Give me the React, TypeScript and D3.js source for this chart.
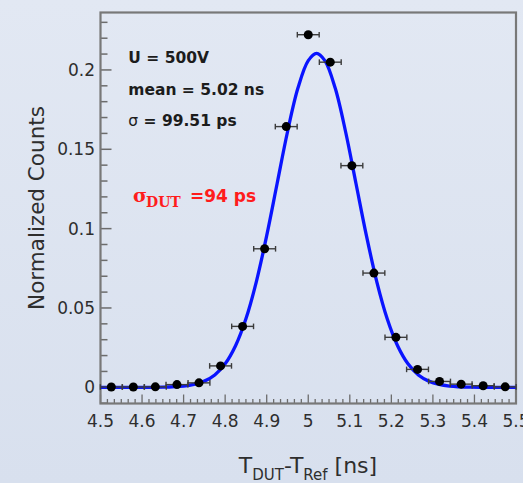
import React, { useRef, useEffect } from 'react';
import * as d3 from 'd3';

// histogram bins (centers in ns) and normalized counts
const binCenters = [4.526, 4.579, 4.632, 4.684, 4.737, 4.789, 4.842, 4.895, 4.947, 5.0, 5.053, 5.105, 5.158, 5.211, 5.263, 5.316, 5.368, 5.421, 5.474];
const counts = [0.0002, 0.0002, 0.0003, 0.0017, 0.0028, 0.0135, 0.0384, 0.0873, 0.1643, 0.2222, 0.2049, 0.1397, 0.072, 0.0315, 0.0113, 0.0037, 0.002, 0.001, 0.0003];
const binHalfWidth = 0.0263;

// gaussian fit
const fitX = [4.5, 4.6, 4.65, 4.7, 4.725, 4.75, 4.775, 4.8, 4.825, 4.85, 4.875, 4.9, 4.925, 4.95, 4.975, 5.0, 5.02, 5.04, 5.065, 5.09, 5.115, 5.14, 5.165, 5.19, 5.215, 5.24, 5.265, 5.29, 5.315, 5.34, 5.39, 5.5];
const fitY = [0, 0, 0.0001, 0.0008, 0.0018, 0.0039, 0.0078, 0.0148, 0.0262, 0.0432, 0.0665, 0.0956, 0.1283, 0.1609, 0.1884, 0.2059, 0.2105, 0.2059, 0.1884, 0.1609, 0.1283, 0.0956, 0.0665, 0.0432, 0.0262, 0.0148, 0.0078, 0.0039, 0.0018, 0.0008, 0.0001, 0];

const xTicks = [4.5, 4.6, 4.7, 4.8, 4.9, 5, 5.1, 5.2, 5.3, 5.4, 5.5];
const xTickLabels = ['4.5', '4.6', '4.7', '4.8', '4.9', '5', '5.1', '5.2', '5.3', '5.4', '5.5'];
const yTicks = [0, 0.05, 0.1, 0.15, 0.2];
const yTickLabels = ['0', '0.05', '0.1', '0.15', '0.2'];

const statLines = [
  { sym: '', text: 'U = 500V' },
  { sym: '', text: 'mean = 5.02 ns' },
  { sym: 'σ', text: ' = 99.51 ps' },
];

const App = () => {
  const svgRef = useRef(null);

  useEffect(() => {
    const svg = d3.select(svgRef.current);
    svg.selectAll('*').remove();
    const width = 523;
    const height = 483;

    // frame
    const frame = { left: 100.5, right: 516, top: 12.5, bottom: 403.5 };

    const xScale = d3.scaleLinear().domain([4.5, 5.5]).range([frame.left, frame.right]);
    const yScale = d3.scaleLinear().domain([-0.0102, 0.2362]).range([frame.bottom, frame.top]);

    // background gradient
    const defs = svg.append('defs');
    const grad = defs.append('linearGradient')
      .attr('id', 'bg')
      .attr('x1', 0).attr('y1', 0).attr('x2', 0).attr('y2', 1);
    grad.append('stop').attr('offset', '0%').attr('stop-color', '#e2e8f3');
    grad.append('stop').attr('offset', '100%').attr('stop-color', '#d8e0ee');

    svg.append('rect')
      .attr('width', width).attr('height', height)
      .attr('fill', 'url(#bg)');

    const font = 'DejaVu Sans, sans-serif';
    const tickColor = '#6c6c6c';
    const labelColor = '#2e2e2e';

    // y ticks (inside the frame)
    const yMinor = d3.range(-0.01, 0.2361, 0.01).filter(v => v > -0.0102);
    svg.append('g').selectAll('line')
      .data(yMinor)
      .join('line')
      .attr('x1', frame.left)
      .attr('x2', v => frame.left + (Math.abs(Math.round(v * 100) % 5) === 0 ? 11 : 7))
      .attr('y1', v => yScale(v))
      .attr('y2', v => yScale(v))
      .attr('stroke', tickColor)
      .attr('stroke-width', 1.5);

    // x ticks (pointing up)
    const xMinor = d3.range(0, 61).map(i => 4.5 + i / 60);
    svg.append('g').selectAll('line')
      .data(xMinor)
      .join('line')
      .attr('x1', v => xScale(v))
      .attr('x2', v => xScale(v))
      .attr('y1', frame.bottom)
      .attr('y2', (v, i) => frame.bottom - (i % 6 === 0 ? 9 : 4.5))
      .attr('stroke', tickColor)
      .attr('stroke-width', 1.3);

    // frame
    svg.append('rect')
      .attr('x', frame.left).attr('y', frame.top)
      .attr('width', frame.right - frame.left)
      .attr('height', frame.bottom - frame.top)
      .attr('fill', 'none')
      .attr('stroke', '#787878')
      .attr('stroke-width', 2.2);

    // tick labels
    svg.append('g').selectAll('text')
      .data(yTicks)
      .join('text')
      .attr('x', 95)
      .attr('y', v => yScale(v) + 6)
      .attr('text-anchor', 'end')
      .attr('font-family', font)
      .attr('font-size', 17)
      .attr('fill', labelColor)
      .text((v, i) => yTickLabels[i]);

    svg.append('g').selectAll('text')
      .data(xTicks)
      .join('text')
      .attr('x', v => xScale(v))
      .attr('y', 426.5)
      .attr('text-anchor', 'middle')
      .attr('font-family', font)
      .attr('font-size', 17)
      .attr('fill', labelColor)
      .text((v, i) => xTickLabels[i]);

    // axis titles
    svg.append('text')
      .attr('transform', 'translate(43.5,208) rotate(-90)')
      .attr('text-anchor', 'middle')
      .attr('font-family', font)
      .attr('font-size', 21.5)
      .attr('fill', labelColor)
      .text('Normalized Counts');

    const xt = svg.append('text')
      .attr('x', 308)
      .attr('y', 472.5)
      .attr('text-anchor', 'middle')
      .attr('font-family', font)
      .attr('font-size', 22)
      .attr('fill', labelColor);
    xt.append('tspan').text('T');
    xt.append('tspan').attr('font-size', 15).attr('dy', 7).text('DUT');
    xt.append('tspan').attr('dy', -7).text('-T');
    xt.append('tspan').attr('font-size', 15).attr('dy', 7).text('Ref');
    xt.append('tspan').attr('dy', -7).text(' [ns]');

    // fit curve
    const line = d3.line()
      .x((d, i) => xScale(fitX[i]))
      .y(d => yScale(d))
      .curve(d3.curveCatmullRom);

    svg.append('path')
      .datum(fitY)
      .attr('d', line)
      .attr('fill', 'none')
      .attr('stroke', '#0a14ff')
      .attr('stroke-width', 3.3);

    // data points with horizontal error bars
    const pts = svg.append('g');
    binCenters.forEach((c, i) => {
      const y = yScale(counts[i]);
      const x0 = xScale(c - binHalfWidth);
      const x1 = xScale(c + binHalfWidth);
      pts.append('line')
        .attr('x1', x0).attr('x2', x1).attr('y1', y).attr('y2', y)
        .attr('stroke', '#3c3c3c').attr('stroke-width', 1.4);
      [x0, x1].forEach(xe => {
        pts.append('line')
          .attr('x1', xe).attr('x2', xe).attr('y1', y - 2.8).attr('y2', y + 2.8)
          .attr('stroke', '#3c3c3c').attr('stroke-width', 1.4);
      });
      pts.append('circle')
        .attr('cx', xScale(c)).attr('cy', y).attr('r', 4.5)
        .attr('fill', '#000');
    });

    // stats text
    statLines.forEach((s, i) => {
      const t = svg.append('text')
        .attr('x', 128.3)
        .attr('y', 63 + i * 31.7)
        .attr('font-family', font)
        .attr('font-size', 15.5)
        .attr('font-weight', 'bold')
        .attr('fill', '#1c1c1c');
      if (s.sym) t.append('tspan').attr('font-weight', 'normal').text(s.sym);
      t.append('tspan').text(s.text);
    });

    // sigma DUT annotation
    const red = '#ff1c1c';
    svg.append('text')
      .attr('x', 133).attr('y', 201.7)
      .attr('font-family', 'DejaVu Serif, serif')
      .attr('font-weight', 'bold')
      .attr('font-size', 19)
      .attr('fill', red)
      .text('σ');
    svg.append('text')
      .attr('x', 146).attr('y', 206.7)
      .attr('font-family', 'DejaVu Serif, serif')
      .attr('font-weight', 'bold')
      .attr('font-size', 14)
      .attr('fill', red)
      .text('DUT');
    svg.append('text')
      .attr('x', 190).attr('y', 201.7)
      .attr('font-family', font)
      .attr('font-weight', 'bold')
      .attr('font-size', 17)
      .attr('fill', red)
      .text('=94 ps');
  }, []);

  return (
    <svg
      ref={svgRef}
      width="523"
      height="483"
      style={{ position: 'absolute', left: 0, top: 0 }}
    ></svg>
  );
};

export default App;
